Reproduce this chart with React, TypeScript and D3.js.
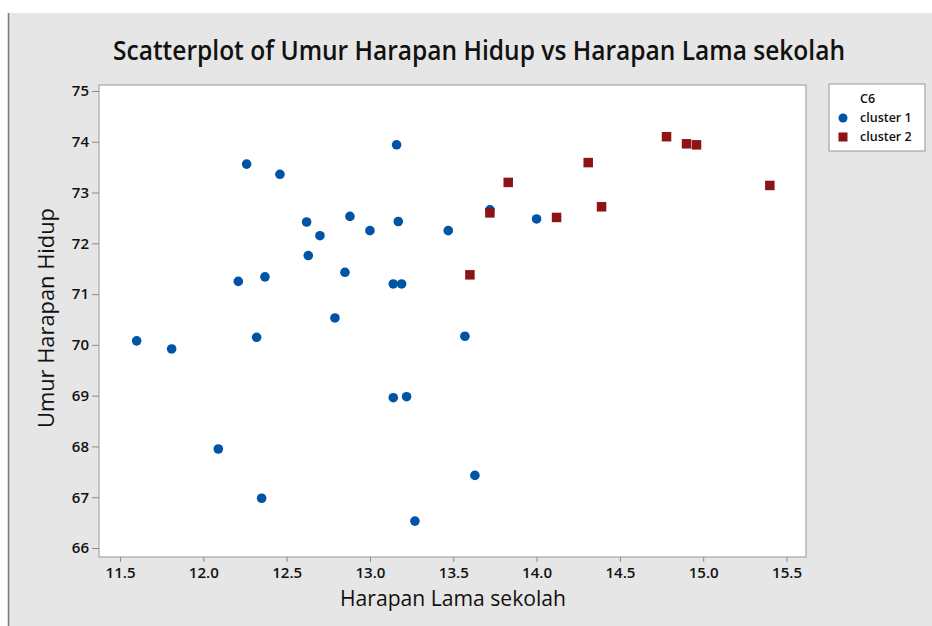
import { useRef, useEffect } from 'react';
import * as d3 from 'd3';

// cluster 1 (blue circles): [Harapan Lama sekolah, Umur Harapan Hidup]
const cluster1X = [11.60, 11.81, 12.09, 12.21, 12.26, 12.32, 12.35, 12.37, 12.46, 12.62, 12.63, 12.70, 12.79, 12.85,
    12.88, 13.00, 13.14, 13.14, 13.16, 13.17, 13.19, 13.22, 13.27, 13.47, 13.57, 13.63, 14.00, 13.72];
const cluster1Y = [70.08, 69.92, 67.95, 71.25, 73.56, 70.15, 66.98, 71.34, 73.36, 72.42, 71.76, 72.15, 70.53, 71.43,
    72.53, 72.25, 71.20, 68.96, 73.94, 72.43, 71.20, 68.98, 66.53, 72.25, 70.17, 67.43, 72.48, 72.66];

// cluster 2 (red squares)
const cluster2X = [13.60, 13.72, 13.83, 14.12, 14.31, 14.39, 14.78, 14.90, 14.96, 15.40];
const cluster2Y = [71.38, 72.60, 73.20, 72.51, 73.59, 72.72, 74.10, 73.96, 73.94, 73.14];

const xTicks = [11.5, 12.0, 12.5, 13.0, 13.5, 14.0, 14.5, 15.0, 15.5];
const yTicks = [66, 67, 68, 69, 70, 71, 72, 73, 74, 75];
const legendItems = ['cluster 1', 'cluster 2'];

const W = 932;
const H = 626;
const BLUE = '#0054a6';
const RED = '#8c1414';
const FONT = "'Open Sans', 'Noto Sans', sans-serif";

const Scatter = () => {
    const ref = useRef(null);

    useEffect(() => {
        const svg = d3.select(ref.current);
        svg.selectAll('*').remove();

        const frame = { left: 99, right: 806, top: 85, bottom: 557 };

        const x = d3.scaleLinear().domain([11.5, 15.5]).range([120, 786.5]);
        const y = d3.scaleLinear().domain([66, 75]).range([548, 91]);

        // background
        svg.append('rect').attr('width', W).attr('height', H).attr('fill', '#ffffff');
        svg.append('rect').attr('x', 8).attr('y', 13).attr('width', W - 8).attr('height', H - 13).attr('fill', '#e6e6e6');
        svg.append('line').attr('x1', 8.5).attr('x2', 8.5).attr('y1', 13).attr('y2', H)
            .attr('stroke', '#7a7a7a').attr('stroke-width', 1.5);

        // plot area
        svg.append('rect')
            .attr('x', frame.left).attr('y', frame.top)
            .attr('width', frame.right - frame.left).attr('height', frame.bottom - frame.top)
            .attr('fill', '#ffffff').attr('stroke', '#a6a6a6').attr('stroke-width', 1.2);

        // axes
        const yAxis = svg.append('g')
            .attr('transform', `translate(${frame.left},0)`)
            .call(d3.axisLeft(y).tickValues(yTicks).tickSize(7).tickPadding(3).tickFormat(d3.format('d')));
        const xAxis = svg.append('g')
            .attr('transform', `translate(0,${frame.bottom})`)
            .call(d3.axisBottom(x).tickValues(xTicks).tickSize(5).tickPadding(5).tickFormat(d3.format('.1f')));

        [yAxis, xAxis].forEach(a => {
            a.select('.domain').remove();
            a.selectAll('line').attr('stroke', '#8a8a8a');
            a.selectAll('text')
                .attr('fill', '#111')
                .style('font-family', FONT)
                .style('font-size', '15px')
                .style('font-weight', 600);
        });
        xAxis.selectAll('text').attr('textLength', 30).attr('lengthAdjust', 'spacingAndGlyphs');

        // points
        const c1 = cluster1X.map((v, i) => ({ x: v, y: cluster1Y[i] }));
        const c2 = cluster2X.map((v, i) => ({ x: v, y: cluster2Y[i] }));

        svg.append('g').selectAll('circle')
            .data(c1)
            .enter().append('circle')
            .attr('cx', d => x(d.x))
            .attr('cy', d => y(d.y))
            .attr('r', 4.8)
            .attr('fill', BLUE);

        const sq = 9.5;
        svg.append('g').selectAll('rect')
            .data(c2)
            .enter().append('rect')
            .attr('x', d => x(d.x) - sq / 2)
            .attr('y', d => y(d.y) - sq / 2)
            .attr('width', sq)
            .attr('height', sq)
            .attr('fill', RED);

        // title and axis labels
        svg.append('text')
            .attr('x', 479).attr('y', 60)
            .attr('text-anchor', 'middle')
            .attr('textLength', 732).attr('lengthAdjust', 'spacingAndGlyphs')
            .style('font-family', FONT).style('font-size', '27px').style('font-weight', 600)
            .attr('fill', '#111')
            .text('Scatterplot of Umur Harapan Hidup vs Harapan Lama sekolah');

        svg.append('text')
            .attr('x', 453).attr('y', 606)
            .attr('text-anchor', 'middle')
            .attr('textLength', 226).attr('lengthAdjust', 'spacingAndGlyphs')
            .style('font-family', FONT).style('font-size', '21px').style('font-weight', 500)
            .attr('fill', '#111')
            .text('Harapan Lama sekolah');

        svg.append('text')
            .attr('transform', 'translate(54,318) rotate(-90)')
            .attr('text-anchor', 'middle')
            .attr('textLength', 220).attr('lengthAdjust', 'spacingAndGlyphs')
            .style('font-family', FONT).style('font-size', '21px').style('font-weight', 500)
            .attr('fill', '#111')
            .text('Umur Harapan Hidup');

        // legend
        const lg = svg.append('g').attr('transform', 'translate(829,84)');
        lg.append('rect').attr('width', 96).attr('height', 67)
            .attr('fill', '#ffffff').attr('stroke', '#a6a6a6').attr('stroke-width', 1.2);
        lg.append('text').attr('x', 31).attr('y', 19)
            .style('font-family', FONT).style('font-size', '12.5px').style('font-weight', 600)
            .attr('fill', '#111').text('C6');
        legendItems.forEach((name, i) => {
            const cy = 34 + i * 19;
            if (i === 0) {
                lg.append('circle').attr('cx', 14).attr('cy', cy).attr('r', 4.5).attr('fill', BLUE);
            } else {
                lg.append('rect').attr('x', 9.5).attr('y', cy - 4.5).attr('width', 9).attr('height', 9).attr('fill', RED);
            }
            lg.append('text').attr('x', 31).attr('y', cy + 4)
                .style('font-family', FONT).style('font-size', '12.5px').style('font-weight', 600)
                .attr('fill', '#111').text(name);
        });
    }, []);

    return <svg ref={ref} width={W} height={H} style={{ position: 'absolute', left: 0, top: 0 }}></svg>;
};

export default function App() {
    return <Scatter />;
}
